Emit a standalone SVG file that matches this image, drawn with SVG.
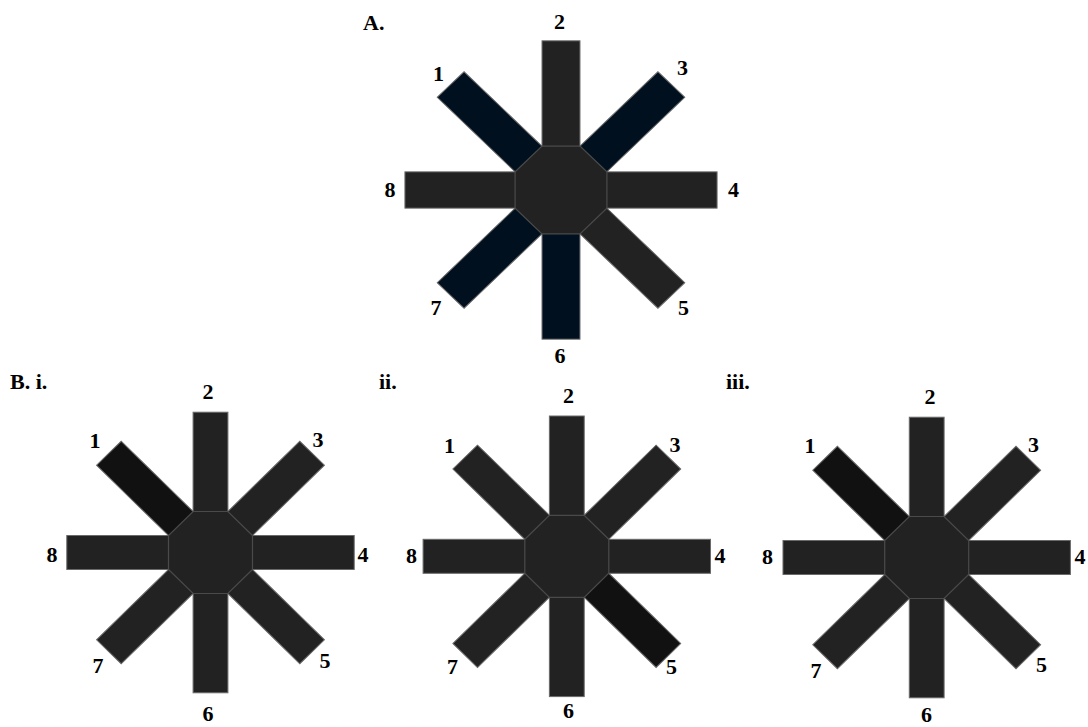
<svg xmlns="http://www.w3.org/2000/svg" xmlns:xlink="http://www.w3.org/1999/xlink" width="1088" height="727" viewBox="0 0 1088 727">
<style>
  .lbl { font-family: "Liberation Serif", "Times New Roman", serif; font-weight: bold; font-size: 22px; fill: #000; }
  .num { text-anchor: middle; }
  .arm { fill: #222222; stroke: #6a6a6a; stroke-width: 1; }
  .navy { fill: #00101f; }
  .dark { fill: #111111; }
  .oct { fill: #222222; stroke: #4a4a4a; stroke-width: 1.2; }
</style>
<defs>
  <rect id="armA" x="-18.6" y="-153" width="37.2" height="110"/>
  <polygon id="octA" points="-18.64,-45 18.64,-45 45,-18.64 45,18.64 18.64,45 -18.64,45 -45,18.64 -45,-18.64"/>
  <rect id="armB" x="-17.2" y="-142" width="34.4" height="102"/>
  <polygon id="octB" points="-17.19,-41.5 17.19,-41.5 41.5,-17.19 41.5,17.19 17.19,41.5 -17.19,41.5 -41.5,17.19 -41.5,-17.19"/>
</defs>
<rect width="1088" height="727" fill="#ffffff"/>

<!-- Star A -->
<g id="starA" transform="translate(561,190) scale(1.02,0.975)">
  <use id="A-arm1" xlink:href="#armA" class="arm navy" transform="rotate(-45)"/>
  <use id="A-arm2" xlink:href="#armA" class="arm" transform="rotate(0)"/>
  <use id="A-arm3" xlink:href="#armA" class="arm navy" transform="rotate(45)"/>
  <use id="A-arm4" xlink:href="#armA" class="arm" transform="rotate(90)"/>
  <use id="A-arm5" xlink:href="#armA" class="arm" transform="rotate(135)"/>
  <use id="A-arm6" xlink:href="#armA" class="arm navy" transform="rotate(180)"/>
  <use id="A-arm7" xlink:href="#armA" class="arm navy" transform="rotate(225)"/>
  <use id="A-arm8" xlink:href="#armA" class="arm" transform="rotate(270)"/>
  <use id="A-center" xlink:href="#octA" class="oct"/>
</g>

<!-- Star B i -->
<g id="starBi" transform="translate(210.5,552.5) scale(1.012,0.988)">
  <use id="Bi-arm1" xlink:href="#armB" class="arm dark" transform="rotate(-45)"/>
  <use id="Bi-arm2" xlink:href="#armB" class="arm" transform="rotate(0)"/>
  <use id="Bi-arm3" xlink:href="#armB" class="arm" transform="rotate(45)"/>
  <use id="Bi-arm4" xlink:href="#armB" class="arm" transform="rotate(90)"/>
  <use id="Bi-arm5" xlink:href="#armB" class="arm" transform="rotate(135)"/>
  <use id="Bi-arm6" xlink:href="#armB" class="arm" transform="rotate(180)"/>
  <use id="Bi-arm7" xlink:href="#armB" class="arm" transform="rotate(225)"/>
  <use id="Bi-arm8" xlink:href="#armB" class="arm" transform="rotate(270)"/>
  <use id="Bi-center" xlink:href="#octB" class="oct"/>
</g>

<!-- Star B ii -->
<g id="starBii" transform="translate(566.8,556.3) scale(1.012,0.988)">
  <use id="Bii-arm1" xlink:href="#armB" class="arm" transform="rotate(-45)"/>
  <use id="Bii-arm2" xlink:href="#armB" class="arm" transform="rotate(0)"/>
  <use id="Bii-arm3" xlink:href="#armB" class="arm" transform="rotate(45)"/>
  <use id="Bii-arm4" xlink:href="#armB" class="arm" transform="rotate(90)"/>
  <use id="Bii-arm5" xlink:href="#armB" class="arm dark" transform="rotate(135)"/>
  <use id="Bii-arm6" xlink:href="#armB" class="arm" transform="rotate(180)"/>
  <use id="Bii-arm7" xlink:href="#armB" class="arm" transform="rotate(225)"/>
  <use id="Bii-arm8" xlink:href="#armB" class="arm" transform="rotate(270)"/>
  <use id="Bii-center" xlink:href="#octB" class="oct"/>
</g>

<!-- Star B iii -->
<g id="starBiii" transform="translate(926.7,557.5) scale(1.012,0.988)">
  <use id="Biii-arm1" xlink:href="#armB" class="arm dark" transform="rotate(-45)"/>
  <use id="Biii-arm2" xlink:href="#armB" class="arm" transform="rotate(0)"/>
  <use id="Biii-arm3" xlink:href="#armB" class="arm" transform="rotate(45)"/>
  <use id="Biii-arm4" xlink:href="#armB" class="arm" transform="rotate(90)"/>
  <use id="Biii-arm5" xlink:href="#armB" class="arm" transform="rotate(135)"/>
  <use id="Biii-arm6" xlink:href="#armB" class="arm" transform="rotate(180)"/>
  <use id="Biii-arm7" xlink:href="#armB" class="arm" transform="rotate(225)"/>
  <use id="Biii-arm8" xlink:href="#armB" class="arm" transform="rotate(270)"/>
  <use id="Biii-center" xlink:href="#octB" class="oct"/>
</g>

<g id="connectors"></g>

<!-- Labels -->
<g id="labels" class="lbl">
  <text x="363" y="30">A.</text>
  <text x="10" y="389">B. i.</text>
  <text x="379" y="389">ii.</text>
  <text x="726" y="389">iii.</text>

  <g class="num">
    <text x="438.5" y="81">1</text>
    <text x="559.5" y="29">2</text>
    <text x="682.5" y="75">3</text>
    <text x="733.5" y="197">4</text>
    <text x="683.5" y="315">5</text>
    <text x="560" y="363">6</text>
    <text x="436" y="315">7</text>
    <text x="390" y="197">8</text>

    <text x="95" y="448">1</text>
    <text x="208" y="399">2</text>
    <text x="318" y="447">3</text>
    <text x="363" y="561.5">4</text>
    <text x="325" y="668">5</text>
    <text x="208" y="721">6</text>
    <text x="98" y="673">7</text>
    <text x="52" y="561.5">8</text>

    <text x="449.5" y="453">1</text>
    <text x="568.5" y="403">2</text>
    <text x="675" y="451.5">3</text>
    <text x="720" y="562.5">4</text>
    <text x="671.5" y="674">5</text>
    <text x="568.5" y="718">6</text>
    <text x="452.5" y="674">7</text>
    <text x="411.5" y="563">8</text>

    <text x="810" y="452.5">1</text>
    <text x="930" y="404">2</text>
    <text x="1033.5" y="451.5">3</text>
    <text x="1080" y="564">4</text>
    <text x="1041.5" y="671.5">5</text>
    <text x="926.5" y="722">6</text>
    <text x="816" y="678">7</text>
    <text x="767.5" y="564">8</text>
  </g>
</g>
</svg>
